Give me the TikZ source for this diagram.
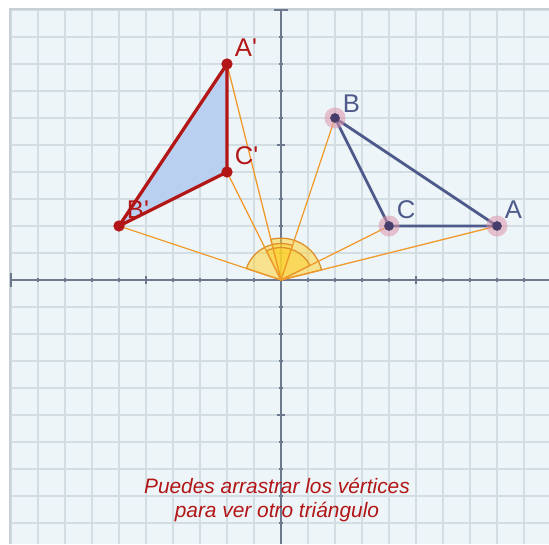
\documentclass[tikz,border=0pt]{standalone}
\usepackage{fontspec}
\setmainfont{Liberation Sans}
\usetikzlibrary{calc}
\begin{document}
\begin{tikzpicture}[x=0.5cm,y=0.5cm]
\definecolor{bgc}{RGB}{237,245,248}
\definecolor{gridc}{RGB}{210,221,228}
\definecolor{axisc}{RGB}{110,120,142}
\definecolor{borderc}{RGB}{198,208,213}
\definecolor{bluec}{RGB}{78,90,138}
\definecolor{bdot}{RGB}{72,62,108}
\definecolor{haloc}{RGB}{222,150,172}
\definecolor{redc}{RGB}{178,22,22}
\definecolor{triF}{RGB}{186,208,240}
\definecolor{orc}{RGB}{240,152,40}
\definecolor{arcc}{RGB}{222,142,40}
\definecolor{secF}{RGB}{255,208,40}
\tikzset{
  gridln/.style={draw=gridc, line width=0.6pt},
  axisln/.style={draw=axisc, line width=0.8pt},
  rayln/.style={draw=orc, line width=0.65pt},
  secst/.style={fill=secF, fill opacity=0.5, draw=arcc, line width=0.65pt},
  blueedge/.style={draw=bluec, line width=1.5pt, line join=round},
  rededge/.style={draw=redc, line width=1.7pt, line join=round},
  halo/.style={circle, fill=haloc, fill opacity=0.55, minimum size=0.39cm, inner sep=0pt},
  bdotst/.style={circle, fill=bdot, minimum size=0.18cm, inner sep=0pt},
  rdotst/.style={circle, fill=redc, minimum size=0.21cm, inner sep=0pt},
  blab/.style={anchor=base west, text=bluec, font=\fontsize{13.5}{15}\selectfont, inner sep=0pt},
  rlab/.style={anchor=base west, text=redc, font=\fontsize{13.5}{15}\selectfont, inner sep=0pt},
  msgst/.style={anchor=base, text=redc, font=\fontsize{11}{13}\selectfont\itshape, inner sep=0pt}
}
\useasboundingbox (-10.407,-9.778) rectangle (9.926,10.37);
\fill[white] (-10.407,-9.778) rectangle (9.926,10.37);
\fill[bgc] (-10.05,-9.778) rectangle (9.926,10.05);
% grid
\foreach \i in {-10,...,9} \draw[gridln] (\i,-9.778) -- (\i,10);
\foreach \j in {-9,...,10} \draw[gridln] (-10,\j) -- (9.926,\j);
% border
\draw[draw=borderc, line width=1.1pt] (-10.05,-9.778) -- (-10.05,10.05) -- (9.926,10.05);
% axes
\coordinate (O) at (0,0);
\coordinate (xl) at (-10,0);
\coordinate (xr) at (9.926,0);
\coordinate (yt) at (0,10);
\coordinate (yb) at (0,-9.778);
\draw[axisln] (xl) -- (xr);
\draw[axisln] (yb) -- (yt);
\draw[axisln] (-10,-0.25) -- (-10,0.25);
\draw[axisln] (-0.25,10) -- (0.25,10);
\foreach \i in {-9,...,-1,1,2,...,9} \draw[axisln, line width=0.6pt] (\i,-0.08) -- (\i,0.08);
\foreach \j in {-9,...,-1,1,2,...,9} \draw[axisln, line width=0.6pt] (-0.08,\j) -- (0.08,\j);
\foreach \i in {-5,5} {\draw[axisln, line width=0.6pt] (\i,-0.16) -- (\i,0.16); \draw[axisln, line width=0.6pt] (-0.16,\i) -- (0.16,\i);}
% points
\coordinate (A) at (8,2);
\coordinate (B) at (2,6);
\coordinate (C) at (4,2);
\coordinate (Ap) at (-2,8);
\coordinate (Bp) at (-6,2);
\coordinate (Cp) at (-2,4);
% angle sectors
\path[secst] (O) -- (14.04:1.55) arc[start angle=14.04, end angle=104.04, radius=0.775cm] -- cycle;
\path[secst] (O) -- (71.57:1.35) arc[start angle=71.57, end angle=161.57, radius=0.675cm] -- cycle;
\path[secst] (O) -- (26.57:1.2) arc[start angle=26.57, end angle=116.57, radius=0.6cm] -- cycle;
% rays
\foreach \p in {A,B,C,Ap,Bp,Cp} \draw[rayln] (O) -- (\p);
% image triangle
\fill[triF] (Ap) -- (Bp) -- (Cp) -- cycle;
\draw[rededge] (Ap) -- (Bp) -- (Cp) -- cycle;
% original triangle
\draw[blueedge] (A) -- (B) -- (C) -- cycle;
% halos and dots
\foreach \p in {A,B,C} {\node[halo] (h\p) at (\p) {}; \node[bdotst] (d\p) at (\p) {};}
\foreach \p in {Ap,Bp,Cp} \node[rdotst] (d\p) at (\p) {};
% labels
\node[blab] (lA) at ($(A)+(0.28,0.28)$) {A};
\node[blab] (lB) at ($(B)+(0.28,0.22)$) {B};
\node[blab] (lC) at ($(C)+(0.28,0.28)$) {C};
\node[rlab] (lAp) at ($(Ap)+(0.28,0.28)$) {A\textquotesingle};
\node[rlab] (lBp) at ($(Bp)+(0.28,0.28)$) {B\textquotesingle};
\node[rlab] (lCp) at ($(Cp)+(0.28,0.28)$) {C\textquotesingle};
% message
\node[msgst] (msg1) at (-0.15,-7.89) {Puedes arrastrar los vértices};
\node[msgst] (msg2) at (-0.15,-8.78) {para ver otro triángulo};
\end{tikzpicture}
\end{document}
